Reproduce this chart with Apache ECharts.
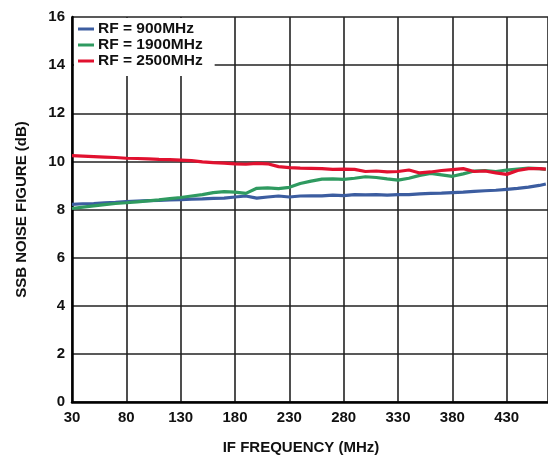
<!DOCTYPE html>
<html>
<head>
<meta charset="utf-8">
<script src="https://cdn.jsdelivr.net/npm/echarts@6/dist/echarts.min.js"></script>
<style>
  html, body { margin: 0; padding: 0; background: #fff; }
  #main { width: 548px; height: 455px; }
</style>
</head>
<body>
<div id="main"></div>
<script>
var freqs = [30, 40, 50, 60, 70, 80, 90, 100, 110, 120, 130, 140, 150, 160, 170, 180, 190, 200,
  210, 220, 230, 240, 250, 260, 270, 280, 290, 300, 310, 320, 330, 340, 350, 360, 370, 380,
  390, 400, 410, 420, 430, 440, 450, 460, 466];

var rf900 = [8.21, 8.24, 8.25, 8.28, 8.30, 8.33, 8.35, 8.37, 8.38, 8.40, 8.41, 8.43, 8.44, 8.46,
  8.47, 8.52, 8.56, 8.47, 8.52, 8.56, 8.52, 8.56, 8.57, 8.57, 8.60, 8.58, 8.62, 8.61, 8.62,
  8.60, 8.62, 8.62, 8.65, 8.67, 8.68, 8.70, 8.72, 8.75, 8.78, 8.80, 8.84, 8.88, 8.93, 9.00, 9.06];

var rf1900 = [8.04, 8.10, 8.15, 8.20, 8.25, 8.28, 8.32, 8.36, 8.40, 8.45, 8.50, 8.56, 8.62, 8.70,
  8.74, 8.72, 8.67, 8.88, 8.90, 8.87, 8.92, 9.08, 9.18, 9.26, 9.27, 9.25, 9.30, 9.36, 9.33,
  9.27, 9.22, 9.30, 9.42, 9.50, 9.44, 9.38, 9.48, 9.60, 9.62, 9.58, 9.64, 9.68, 9.72, 9.70, 9.67];

var rf2500 = [10.24, 10.22, 10.20, 10.18, 10.16, 10.13, 10.12, 10.10, 10.08, 10.07, 10.05, 10.03,
  9.98, 9.95, 9.93, 9.90, 9.88, 9.92, 9.90, 9.78, 9.74, 9.72, 9.71, 9.70, 9.67, 9.68, 9.67,
  9.58, 9.60, 9.56, 9.58, 9.64, 9.52, 9.56, 9.62, 9.66, 9.70, 9.58, 9.60, 9.52, 9.46, 9.62,
  9.70, 9.70, 9.68];

var seriesNames = ["RF = 900MHz", "RF = 1900MHz", "RF = 2500MHz"];
var seriesColors = ["#3c5da0", "#2f9a60", "#e1112f"];
var seriesData = [rf900, rf1900, rf2500];

var fontFamily = "Liberation Sans, Arial, sans-serif";

function pairs(ys) {
  return freqs.map(function (f, i) { return [f, ys[i]]; });
}

var chart = echarts.init(document.getElementById("main"));

var option = {
  animation: false,
  backgroundColor: "#fff",
  grid: { left: 72, top: 17, right: 0, bottom: 53, containLabel: false, outerBoundsMode: "none" },
  legend: {
    orient: "vertical",
    left: 74,
    top: 18,
    padding: [3, 12, 7, 4],
    itemGap: 0,
    itemWidth: 16,
    itemHeight: 3,
    icon: "rect",
    backgroundColor: "#fff",
    textStyle: {
      fontFamily: fontFamily, fontWeight: "bold", fontSize: 15.5,
      color: "#111", lineHeight: 15.5, padding: [0, 0, 0, -1]
    },
    data: seriesNames
  },
  xAxis: {
    type: "value",
    min: 30,
    max: 468,
    interval: 50,
    name: "IF FREQUENCY (MHz)",
    nameLocation: "middle",
    nameGap: 38,
    nameTextStyle: {
      fontFamily: fontFamily, fontWeight: "bold", fontSize: 15, color: "#111",
      padding: [0, 18, 0, 0]
    },
    axisLine: { show: true, onZero: false, lineStyle: { color: "#000", width: 2.5 } },
    axisTick: { show: false },
    axisLabel: {
      margin: 8, showMaxLabel: false,
      fontFamily: fontFamily, fontWeight: "bold", fontSize: 15, color: "#111"
    },
    splitLine: { show: true, lineStyle: { color: "#222", width: 1.6 } }
  },
  yAxis: {
    type: "value",
    min: 0,
    max: 16,
    interval: 2,
    name: "SSB NOISE FIGURE (dB)",
    nameLocation: "middle",
    nameGap: 43,
    nameTextStyle: { fontFamily: fontFamily, fontWeight: "bold", fontSize: 15, color: "#111" },
    axisLine: { show: true, lineStyle: { color: "#000", width: 2.5 } },
    axisTick: { show: false },
    axisLabel: { margin: 7, fontFamily: fontFamily, fontWeight: "bold", fontSize: 15, color: "#111" },
    splitLine: { show: true, lineStyle: { color: "#222", width: 1.6 } }
  },
  series: seriesNames.map(function (name, i) {
    return {
      name: name,
      type: "line",
      data: pairs(seriesData[i]),
      symbol: "none",
      smooth: false,
      color: seriesColors[i],
      lineStyle: { color: seriesColors[i], width: 3.2 },
      z: 3 + i
    };
  })
};

chart.setOption(option);
window.onresize = chart.resize;
</script>
</body>
</html>
